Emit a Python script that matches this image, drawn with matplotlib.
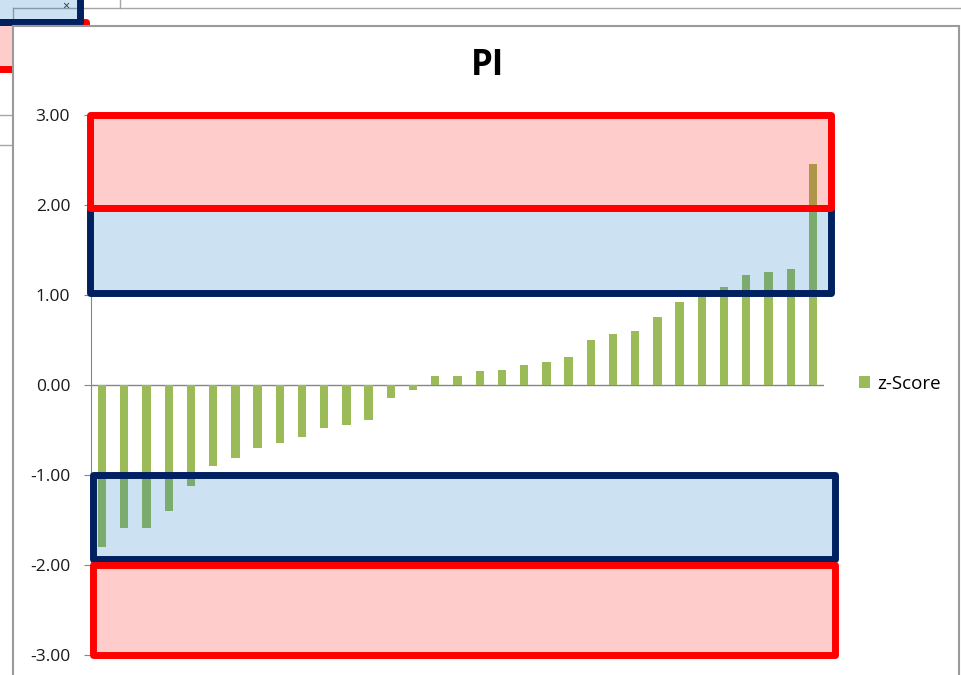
import numpy as np
import matplotlib.pyplot as plt
from matplotlib.patches import Rectangle

plt.rcParams['font.family'] = ['Open Sans', 'DejaVu Sans']

# z-Score per item, sorted ascending
z_score = [-1.80, -1.59, -1.59, -1.40, -1.12, -0.90, -0.81, -0.70, -0.64, -0.58,
           -0.48, -0.45, -0.39, -0.14, -0.06, 0.10, 0.10, 0.15, 0.17, 0.22,
           0.26, 0.31, 0.50, 0.57, 0.60, 0.76, 0.92, 1.02, 1.09, 1.22,
           1.25, 1.29, 2.46]
items = np.arange(len(z_score))

# warning / alarm bands drawn over the bars
band_low = [1.02, 1.97, -1.93, -3.00]
band_high = [1.97, 3.00, -1.00, -2.00]
band_left = [-0.55, -0.55, -0.39, -0.39]
band_right = [32.80, 32.80, 32.98, 32.98]
band_kind = ['warn', 'alarm', 'warn', 'alarm']

band_style = {
    'warn': dict(facecolor=(0.0, 0.44, 0.75, 0.2), edgecolor='#002060'),
    'alarm': dict(facecolor=(1.0, 0.0, 0.0, 0.2), edgecolor='#ff0000'),
}

W, H = 961, 675
fig = plt.figure(figsize=(W / 100, H / 100), dpi=100)

# window frame behind the chart (pixel coords)
bg = fig.add_axes([0, 0, 1, 1], zorder=-1)
bg.set_xlim(0, W)
bg.set_ylim(H, 0)
bg.axis('off')
grey = '#a6a6a6'
bg.plot([13, W], [7.5, 7.5], color=grey, lw=1, zorder=1)
bg.plot([119.5, 119.5], [0, 7.5], color=grey, lw=1, zorder=1)
bg.plot([13, 13], [7.5, 26], color=grey, lw=1, zorder=1)
for yy in (115, 145):
    bg.plot([0, 13], [yy, yy], color=grey, lw=1, zorder=1)
bg.add_patch(Rectangle((-20, 21.5), 106, 47.5, lw=5, joinstyle='round',
                       zorder=2, **band_style['alarm']))
bg.add_patch(Rectangle((-20, -20), 99.5, 41.5, lw=5, joinstyle='round',
                       zorder=3, **band_style['warn']))
bg.text(66, 6, '×', ha='center', va='center', fontsize=9, color='#333333', zorder=4)
bg.add_patch(Rectangle((13, 26), 946, 700, facecolor='white',
                       edgecolor='#9a9a9a', lw=1.5, zorder=5))

ax = fig.add_axes([91 / W, (H - 655) / H, 733 / W, 540 / H])
ax.set_facecolor('none')

bars = ax.bar(items, z_score, width=0.375, color='#9bbb59', label='z-Score', zorder=2)
ax.axhline(0, color='#868686', lw=1, zorder=1)

for lo, hi, x0, x1, kind in zip(band_low, band_high, band_left, band_right, band_kind):
    ax.add_patch(Rectangle((x0, lo), x1 - x0, hi - lo, lw=5, joinstyle='round',
                           clip_on=False, zorder=3, **band_style[kind]))

ax.set_xlim(-0.5, len(z_score) - 0.5)
ax.set_ylim(-3, 3)
ax.set_xticks([])
ax.set_yticks(np.arange(-3, 3.01, 1))
ax.set_yticklabels(['{:.2f}'.format(v) for v in np.arange(-3, 3.01, 1)])
ax.tick_params(axis='y', direction='out', length=5, color='#868686',
               labelsize=12.5, pad=10, labelcolor='#1a1a1a')
for side in ('top', 'right', 'bottom'):
    ax.spines[side].set_visible(False)
ax.spines['left'].set_color('#868686')

ax.legend(loc='center left', bbox_to_anchor=(859 / W, 1 - 384 / H),
          bbox_transform=fig.transFigure, frameon=False, fontsize=13.5,
          handlelength=0.6, handleheight=0.6, handletextpad=0.35,
          borderpad=0, borderaxespad=0)

fig.text(487 / W, 1 - 66 / H, 'PI', ha='center', va='center',
         fontsize=25, fontweight='bold')

fig.savefig('out.png', dpi=100)
